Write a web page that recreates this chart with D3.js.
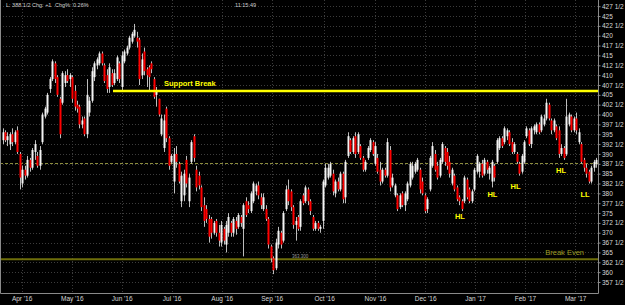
<!DOCTYPE html>
<html>
<head>
<meta charset="utf-8">
<script src="https://cdn.jsdelivr.net/npm/d3@7"></script>
<style>
body { margin: 0; background: #000; }
svg { display: block; background: #000; font-family: "Liberation Sans", Arial, sans-serif; }
.grid line { stroke: #3c3c3c; stroke-dasharray: 1,2; }
.axis path, .axis line { stroke: #8a8a8a; }
.axis text { fill: #d8d8d8; font-size: 6.5px; }
</style>
</head>
<body>
<div class="visHolder"></div>
<script>
// daily candles, Mar '16 .. Mar '17
var opens = [393.5,395.5,393.5,392.5,395,393,396,390,382.5,386,384.5,388.5,386.5,390.5,389.5,387,393,399.5,400.5,406.5,
409,413,409.5,404,403,408,410,409,409.5,406,402.5,402,397.5,399,395,400.5,403.5,409.5,412.5,413,
415.5,412.5,410,407,410.5,408,409,413,407,413.5,415.5,417,418.5,420,419.5,419,410,416,411.5,412,
413,409,405,404,395,391.5,401.5,394,388,383,390,387.5,378,379.5,388.5,378,388,394.5,386,384.5,
381.5,377,376,373.5,373.5,370,373,370,367.5,371,367,370,372.5,370,373,371.5,374,371,378,377,
375.5,378,380.5,382,379,376,376,373.5,366.5,363.5,361,367,370,368,376,381,380.5,376.5,372,374,
371.5,379.5,378,381,378,374,371,372.5,371,373,382,384,384.5,385,380,383,381,385,379,389.5,
393.5,390.5,394.5,390.5,392,389,386,389,391,393,387.5,389,386,383,386,384.5,391,382,379.5,379.5,
376.5,380,377,378.5,382,384,385.5,386,386,383,379.5,376,381,387,390,387,384.5,388,391.5,390.5,
388,382.5,384.5,381.5,379,378,378,383.5,381,378,381,385.5,385.5,387.5,385,388,385,383,387,388,
391.5,394,393,394.5,395.5,393,390.5,390,387.5,385.5,388,394.5,396,392.5,396,395.5,397.5,396,397.5,399,
402.5,398.5,396,397,396,390,391.5,390,397.5,399.5,396,399,393,392.5,388.5,386.5,385.5,383,386.5,387.5];
var highs = [396.5,396,395.5,395.5,396.5,396,397,390.5,387,387,389.5,389,391.5,393.5,390.5,392,400.5,402,405.5,409.5,
414,413.5,410,404.5,411,411,411.5,410.5,410,407.5,403.5,402.5,399.5,399.5,409,404.5,412,413.5,414.5,416,
416,413,411.5,413,411.5,411.5,415,413.5,416,416.5,417.5,420,421,423,421,419.5,415.5,417,412,412.5,
413.5,409.5,407,404,400,400,402,394.5,390,391.5,392,388,385.5,386,389.5,385,393.5,395,387,385.5,
382,379,377,374.5,374,373,373.5,372,373,371.5,373,375,373,374,374,375,374.5,377.5,379,378,
380.5,383,382.5,383,380,380,377,374,367,364,368.5,371.5,370.5,375.5,382,383.5,381,377,374,374.5,
378.5,380,382,381.5,378.5,374.5,373,373,372,383.5,387.5,387.5,388,386,383.5,384,385.5,385.5,388.5,395.5,
394,394.5,395.5,395.5,392.5,389.5,388.5,392,394,393.5,393,390,388,386.5,386.5,394,392,385,382.5,380,
380,380.5,380.5,383,388,388,388,389,386.5,384,380,379,389.5,393,391,388,389,393,392,391.5,
389.5,386.5,385,382,379.5,378.5,384.5,384,381.5,381,386.5,390,388,388.5,389,388.5,387,388.5,387.5,394,
394.5,394.5,397,396.5,396,394,393,390.5,388,390,393.5,397,396.5,397,397.5,398,398,400,400,404,
403,399,399,397.5,397,392.5,392,404,400.5,400,399.5,400.5,396.5,393,389,387.5,386,387,388.5,389];
var lows = [392.5,393,392,391,392,392.5,390,381,381.5,383.5,384,385.5,386,388.5,386.5,386,392.5,399,400,405.5,
408.5,408,404.5,394,402.5,407,408,407,403,401,400.5,396.5,396.5,394.5,394,399.5,403,408.5,411.5,412.5,
412.5,408,405.5,405.5,407,407.5,408.5,408,406,413,415,416.5,418,419.5,417,407.5,409,410,407,406,
410.5,404,402,399.5,394.5,390.5,393,386,387.5,380,386.5,382.5,376.5,378,381.5,376.5,387.5,388,380.5,381,
375.5,371.5,372.5,367.5,368.5,369.5,369,366.5,366.5,367,365,369,369,369,369.5,371,371.5,364,374,375,
375,377.5,379.5,378.5,376,375.5,373,366,362.5,359.5,360.5,366,366,367.5,375.5,377,375.5,371,368,370.5,
370.5,377,377.5,377,374.5,370.5,370.5,370.5,370,371,381.5,383.5,384,379.5,379,380.5,380.5,377.5,377.5,389,
390,390,389,390,388.5,385.5,385.5,388.5,390.5,389.5,387,385,382,382.5,384,384,380.5,381.5,379,375.5,
376,376.5,375.5,378,381.5,383.5,385,385.5,380,379.5,375,375,380.5,386.5,385.5,383.5,384,387.5,387,386,
384,382,380.5,378,377,375.5,377.5,378.5,377.5,377.5,380.5,385,384,384,384.5,385,383.5,381.5,383,387.5,
391,391.5,392.5,393.5,392,390,390,387.5,384.5,385,387.5,394,392,391.5,395,395,395,395.5,397,398.5,
398.5,395,395.5,393.5,389,389.5,388.5,389.5,397,395.5,395.5,395,392.5,387.5,385.5,384,382.5,382.5,385.5,386.5];
var closes = [395.5,393.5,394.5,395,393,395.5,390.5,384,386,384.5,388.5,386.5,391,392.5,387,391,400,401.5,405,409,
413.5,409,405,395,410.5,410,408.5,410,404,402,401.5,397.5,398.5,395,405,403.5,411,413,414,415.5,
413,408.5,406.5,412,407.5,410.5,414.5,409,415,416,417,419.5,420.5,421.5,418.5,409,414,411,410,409.5,
411.5,404.5,406,400,399,398.5,394,387,389.5,390,388,383,384.5,385,382.5,384,393,389,381.5,382,
376.5,373,373.5,369,370,372.5,370,368,372,368,372,374,370,373.5,371,374.5,372.5,377,374.5,376,
380,382.5,382,379.5,377,379,373.5,367,363.5,360.5,367.5,370.5,367,375,381,378,376.5,372,373,371,
378,377.5,381.5,378,375.5,371,372.5,371,371.5,383,386.5,386.5,387.5,380.5,383,381,385,378.5,388,394.5,
390.5,394,390,395,389,386,388,391.5,393.5,390,392,385.5,383,386,384.5,393,381.5,384,382,376,
379.5,377,380,382.5,387.5,387,387.5,388.5,381,380,375.5,378.5,389,392,386,384,388.5,392.5,388,387,
385,386,381,378.5,378,376,384,379,378,380.5,386,389.5,387.5,384.5,388.5,386,386.5,388,384,393.5,
394,392,396.5,396,392.5,390.5,392.5,388,385,389.5,393,396.5,392.5,396.5,397,397.5,395.5,399.5,399,403,
399,396,398.5,394,390,391.5,389,399.5,400,396,399,396,395.5,388,386.5,385,383,386.5,388,388.5];

// months: where each month starts on the candle index, and its label
var monthStarts = [7.7, 27.9, 48, 68.1, 88.3, 108.4, 129.5, 150, 170.2, 190.3, 210.4, 230.6];
var monthLabels = ["Apr '16", "May '16", "Jun '16", "Jul '16", "Aug '16", "Sep '16",
                   "Oct '16", "Nov '16", "Dec '16", "Jan '17", "Feb '17", "Mar '17"];
var priceTicks = [427.5,425,422.5,420,417.5,415,412.5,410,407.5,405,402.5,400,397.5,395,392.5,390,
                  387.5,385,382.5,380,377.5,375,372.5,370,367.5,365,362.5,360,357.5];

var supportLevel = 406, supportStart = 44.5;
var breakEven = 363.3;
var lastLine = 387.6;
var swingLabels = ["HL", "HL", "HL", "HL", "LL"];
var swingIdx = [184.2, 197.3, 206.6, 224.9, 234.6];
var swingPrice = [374.2, 379.7, 381.7, 385.8, 379.7];

var width = 625, height = 305,
plotRight = 598, plotBottom = 293;

var svg = d3.select(".visHolder").append("svg")
.attr("width", width)
.attr("height", height);

var x = d3.scaleLinear()
.domain([0, closes.length - 1])
.range([2.5, 596]);

var y = d3.scaleLinear()
.domain([357.5, 427.5])
.range([282, 6.2]);

function priceFmt(d) {
    var whole = Math.floor(d);
    return d - whole === 0.5 ? whole + " 1/2" : String(whole);
}

// grid
var grid = svg.append("g").attr("class", "grid");
grid.selectAll(".h")
.data(priceTicks)
.enter()
.append("line")
.attr("x1", 0)
.attr("x2", plotRight)
.attr("y1", function(d) { return Math.round(y(d)) + 0.5; })
.attr("y2", function(d) { return Math.round(y(d)) + 0.5; });
grid.selectAll(".v")
.data(monthStarts)
.enter()
.append("line")
.attr("y1", 0)
.attr("y2", plotBottom)
.attr("x1", function(d) { return Math.round(x(d)) + 0.5; })
.attr("x2", function(d) { return Math.round(x(d)) + 0.5; });

// break even line
svg.append("line")
.attr("x1", 0)
.attr("x2", plotRight)
.attr("y1", y(breakEven))
.attr("y2", y(breakEven))
.attr("stroke", "#6e6e0a")
.attr("stroke-width", 2);

svg.append("text")
.attr("x", 584)
.attr("y", y(breakEven) - 4.5)
.attr("text-anchor", "end")
.attr("fill", "#9c9c22")
.style("font-size", "7.5px")
.text("Break Even");

svg.append("text")
.attr("x", 292)
.attr("y", y(breakEven) - 1.5)
.attr("fill", "#9a9a9a")
.style("font-size", "4.5px")
.text("363.300");

// last price dashed line
svg.append("line")
.attr("x1", 0)
.attr("x2", plotRight)
.attr("y1", Math.round(y(lastLine)) + 0.5)
.attr("y2", Math.round(y(lastLine)) + 0.5)
.attr("stroke", "#8c8c3c")
.attr("stroke-dasharray", "3,2");

// candles
var candles = svg.append("g");
candles.selectAll("line")
.data(closes)
.enter()
.append("line")
.attr("x1", function(d, i) { return Math.round(x(i)) + 0.5; })
.attr("x2", function(d, i) { return Math.round(x(i)) + 0.5; })
.attr("y1", function(d, i) { return y(highs[i]); })
.attr("y2", function(d, i) { return y(lows[i]); })
.attr("stroke", "#bdbdbd")
.attr("stroke-width", 1);

candles.selectAll("rect")
.data(closes)
.enter()
.append("rect")
.attr("x", function(d, i) { return Math.round(x(i)) - 0.5; })
.attr("width", 2)
.attr("y", function(d, i) { return y(Math.max(opens[i], d)); })
.attr("height", function(d, i) { return Math.max(1, Math.abs(y(opens[i]) - y(d))); })
.attr("fill", function(d, i) { return d >= opens[i] ? "#f4f4f4" : "#ff0000"; });

// support break
svg.append("line")
.attr("x1", x(supportStart))
.attr("x2", plotRight)
.attr("y1", y(supportLevel))
.attr("y2", y(supportLevel))
.attr("stroke", "#ffff00")
.attr("stroke-width", 2.5);

svg.append("text")
.attr("x", 164)
.attr("y", y(supportLevel) - 5)
.attr("fill", "#ffff00")
.style("font-size", "7.5px")
.style("font-weight", "bold")
.text("Support Break");

svg.selectAll(".swing")
.data(swingLabels)
.enter()
.append("text")
.attr("x", function(d, i) { return x(swingIdx[i]); })
.attr("y", function(d, i) { return y(swingPrice[i]); })
.attr("dy", "0.35em")
.attr("text-anchor", "middle")
.attr("fill", "#ffff00")
.style("font-size", "7.5px")
.style("font-weight", "bold")
.text(function(d) { return d; });

// axes
var yAxis = d3.axisRight(y)
.tickValues(priceTicks)
.tickFormat(priceFmt)
.tickSize(2)
.tickSizeOuter(0)
.tickPadding(1.5);

svg.append("g")
.attr("class", "axis")
.attr("transform", "translate(" + (plotRight + 0.5) + ",0)")
.call(yAxis)
.select(".domain").remove();

var xAxis = d3.axisBottom(x)
.tickValues(monthStarts)
.tickFormat(function(d, i) { return monthLabels[i]; })
.tickSize(0)
.tickPadding(3);

svg.append("g")
.attr("class", "axis")
.attr("transform", "translate(0," + plotBottom + ")")
.call(xAxis)
.select(".domain").remove();

svg.append("path")
.attr("d", "M0.5,0V" + (plotBottom + 0.5) + "H" + (plotRight + 0.5) + "V0")
.attr("fill", "none")
.attr("stroke", "#8a8a8a");

// header
svg.append("text")
.attr("x", 6)
.attr("y", 7)
.attr("fill", "#cfcfcf")
.style("font-size", "5.5px")
.text("L: 388 1/2 Chg: +1");
svg.append("text")
.attr("x", 55)
.attr("y", 7)
.attr("fill", "#cfcfcf")
.style("font-size", "5.5px")
.text("Chg%: 0.26%");
svg.append("text")
.attr("x", 235)
.attr("y", 7)
.attr("fill", "#cfcfcf")
.style("font-size", "5.5px")
.text("11:15:49");
</script>
</body>
</html>
